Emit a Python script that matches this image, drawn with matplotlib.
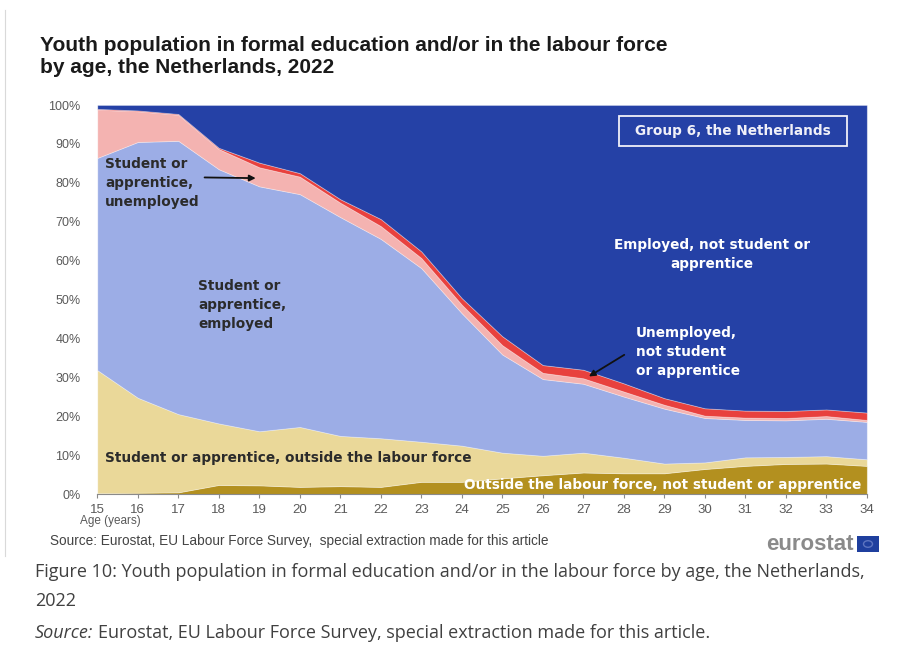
import matplotlib
matplotlib.use("Agg")
import matplotlib.pyplot as plt
from matplotlib.patches import Rectangle, Circle
from matplotlib.lines import Line2D
import numpy as np

ages = list(range(15, 35))
age_labels = [str(a) for a in ages]

# shares (%) by age
outside_lf_not_student = [0.3, 0.4, 0.5, 2.4, 2.3, 1.9, 2.1, 1.9, 3.2, 3.2,
                          4.1, 4.9, 5.6, 5.4, 5.4, 6.5, 7.3, 7.8, 7.9, 7.3]
student_outside_lf = [31.6, 24.4, 20.1, 15.8, 13.9, 15.4, 12.9, 12.5, 10.3, 9.3,
                      6.6, 5.0, 5.1, 4.0, 2.5, 1.7, 2.2, 1.8, 1.9, 1.7]
student_employed = [54.5, 65.7, 70.2, 65.3, 62.9, 59.8, 56.2, 51.2, 44.6, 34.0,
                    25.2, 19.7, 17.7, 15.7, 14.1, 11.4, 9.6, 9.4, 9.6, 9.6]
student_unemployed = [12.4, 7.9, 6.7, 5.2, 4.9, 4.5, 3.7, 3.3, 2.6, 2.2,
                      2.4, 1.6, 1.4, 1.3, 1.0, 0.6, 0.6, 0.6, 0.7, 0.5]
unemployed_not_student = [0.2, 0.2, 0.2, 0.3, 1.2, 0.9, 0.9, 1.8, 1.7, 1.7,
                          2.3, 2.0, 2.2, 2.1, 1.7, 1.9, 1.8, 1.8, 1.7, 1.9]
employed_not_student = [1.0, 1.4, 2.3, 11.0, 14.8, 17.5, 24.2, 29.3, 37.6, 49.6,
                        59.4, 66.8, 68.0, 71.5, 75.3, 77.9, 78.5, 78.6, 78.2, 79.0]

y_ticks = [0, 10, 20, 30, 40, 50, 60, 70, 80, 90, 100]
y_tick_labels = [f"{v}%" for v in y_ticks]

colors = ["#B3901F", "#EAD899", "#9CADE6", "#F4B3B1", "#E8413E", "#2541A6"]

fig = plt.figure(figsize=(9.09, 6.64), dpi=100)
W, H = 909, 664
ax = fig.add_axes([97.3 / W, 1 - 494.3 / H, 769.5 / W, 389.3 / H])

ax.stackplot(ages, outside_lf_not_student, student_outside_lf, student_employed,
             student_unemployed, unemployed_not_student, employed_not_student,
             colors=colors, edgecolor=(1, 1, 1, 0.35), linewidth=0.6)

ax.set_xlim(15, 34)
ax.set_ylim(0, 100)
ax.set_xticks(ages)
ax.set_xticklabels(age_labels)
ax.set_yticks(y_ticks)
ax.set_yticklabels(y_tick_labels)
for s in ["top", "right", "left"]:
    ax.spines[s].set_visible(False)
ax.spines["bottom"].set_color("#8a8a8a")
ax.spines["bottom"].set_linewidth(0.8)
ax.tick_params(axis="y", length=0, pad=12, labelsize=9, labelcolor="#5a5a5a")
ax.tick_params(axis="x", length=3, color="#8a8a8a", pad=4, labelsize=9.5, labelcolor="#5a5a5a")
for lab in ax.get_xticklabels() + ax.get_yticklabels():
    lab.set_family("Liberation Sans")

# Title
fig.text(40 / W, 1 - 36 / H,
         "Youth population in formal education and/or in the labour force\nby age, the Netherlands, 2022",
         ha="left", va="top", fontsize=15, fontweight="bold", color="#1a1a1a",
         family="Liberation Sans", linespacing=1.2)

# Annotations
ann_kw = dict(fontsize=9.8, fontweight="bold", family="DejaVu Sans", linespacing=1.45)
ax.text(15.19, 80.0, "Student or\napprentice,\nunemployed", ha="left", va="center",
        color="#2b2b2b", **ann_kw)
ax.annotate("", xy=(18.98, 81.2), xytext=(17.58, 81.4),
            arrowprops=dict(arrowstyle="-|>", color="#111111", lw=1.3, mutation_scale=9))
ax.text(17.49, 48.7, "Student or\napprentice,\nemployed", ha="left", va="center",
        color="#2b2b2b", **ann_kw)
ax.text(30.17, 61.5, "Employed, not student or\napprentice", ha="center", va="center",
        color="white", **ann_kw)
ax.text(28.3, 36.6, "Unemployed,\nnot student\nor apprentice", ha="left", va="center",
        color="white", **ann_kw)
ax.annotate("", xy=(27.08, 29.9), xytext=(28.07, 36.2),
            arrowprops=dict(arrowstyle="-|>", color="#111111", lw=1.3, mutation_scale=9))
ax.text(15.19, 9.3, "Student or apprentice, outside the labour force", ha="left", va="center",
        color="#2b2b2b", **ann_kw)
ax.text(24.05, 2.4, "Outside the labour force, not student or apprentice", ha="left",
        va="center", color="white", **ann_kw)

# Group box
ax.add_patch(Rectangle((0.678, 0.895), 0.296, 0.077, transform=ax.transAxes,
                       fill=False, edgecolor="#f0f0f8", linewidth=1.3, zorder=5))
ax.text(0.826, 0.933, "Group 6, the Netherlands", transform=ax.transAxes, ha="center",
        va="center", color="#f0f0f8", fontsize=9.8, fontweight="bold", family="DejaVu Sans", zorder=6)

# Axis label
fig.text(80 / W, 1 - 521 / H, "Age (years)", ha="left", va="center", fontsize=8.5,
         color="#5a5a5a", family="Liberation Sans")

renderer = fig.canvas.get_renderer()


def two_part(x_px, y_px, first, rest, size, color, family, gap_px):
    t1 = fig.text(x_px / W, 1 - y_px / H, first, ha="left", va="center", fontsize=size,
                  color=color, family=family, style="italic")
    bb = t1.get_window_extent(renderer=renderer)
    fig.text((bb.x1 + gap_px) / W, 1 - y_px / H, rest, ha="left", va="center",
             fontsize=size, color=color, family=family)


# Source inside chart image
fig.text(50 / W, 1 - 541 / H,
         "Source: Eurostat, EU Labour Force Survey,  special extraction made for this article",
         ha="left", va="center", fontsize=9.8, color="#444444", family="Liberation Sans")

# eurostat logo
fig.text(854 / W, 1 - 544 / H, "eurostat", ha="right", va="center", fontsize=16,
         color="#8a8a8a", family="Liberation Sans", fontweight="bold")
fig.patches.append(Rectangle((857 / W, 1 - 552 / H), 22 / W, 16 / H, transform=fig.transFigure,
                             facecolor="#1f3f9e", edgecolor="none"))
fig.patches.append(Circle((868 / W, 1 - 544 / H), 4.5 / W, transform=fig.transFigure,
                          facecolor="none", edgecolor="#5d74c0", linewidth=1.0))
fig.lines.append(Line2D([5 / W, 5 / W], [1 - 10 / H, 1 - 556 / H], transform=fig.transFigure,
                        color="#d9d9d9", linewidth=0.8))

# Caption below the image
fig.text(35 / W, 1 - 572 / H,
         "Figure 10: Youth population in formal education and/or in the labour force by age, the Netherlands,",
         ha="left", va="center", fontsize=13, color="#404040", family="Open Sans")
fig.text(35 / W, 1 - 601 / H, "2022", ha="left", va="center", fontsize=13,
         color="#404040", family="Open Sans")
two_part(35, 633, "Source:", "Eurostat, EU Labour Force Survey, special extraction made for this article.",
         13, "#404040", "Open Sans", 5)

fig.savefig("out.png", dpi=100)
